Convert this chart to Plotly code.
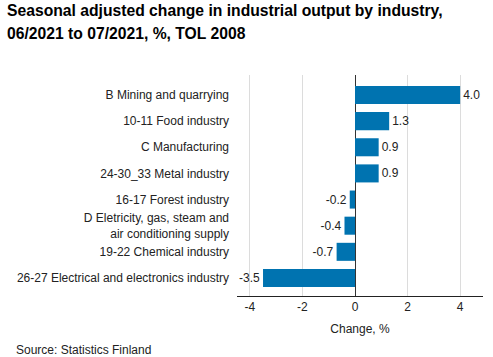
import plotly.graph_objects as go

categories = [
    "B Mining and quarrying",
    "10-11 Food industry",
    "C Manufacturing",
    "24-30_33 Metal industry",
    "16-17 Forest industry",
    "D Eletricity, gas, steam and<br>air conditioning supply",
    "19-22 Chemical industry",
    "26-27 Electrical and electronics industry",
]
values = [4.0, 1.3, 0.9, 0.9, -0.2, -0.4, -0.7, -3.5]
x_ticks = [-4, -2, 0, 2, 4]
title_lines = ["Seasonal adjusted change in industrial output by industry,",
               "06/2021 to 07/2021, %, TOL 2008"]
x_title = "Change, %"
source = "Source: Statistics Finland"

W, H = 493, 357
L, R, T, B = 237, 10, 75, 61
pw, ph = W - L - R, H - T - B

def px_x(p):
    return (p - L) / pw

def px_y(p):
    return (H - B - p) / ph

FONT = "Liberation Sans, Arial, sans-serif"

fig = go.Figure(go.Bar(
    x=values, y=categories, orientation="h",
    marker=dict(color="#0073b0", line=dict(width=0)),
    width=0.69,
    text=values, texttemplate="%{x:.1f}", textposition="outside",
    textfont=dict(size=12, color="#222", family=FONT),
    cliponaxis=False,
))

fig.update_layout(
    width=W, height=H,
    margin=dict(l=L, r=R, t=T, b=B, pad=0, autoexpand=False),
    paper_bgcolor="white", plot_bgcolor="white",
    showlegend=False,
    font=dict(family=FONT, size=12, color="#222"),
    xaxis=dict(
        range=[-4.49, 4.87], tickvals=x_ticks, ticktext=[str(v) for v in x_ticks],
        showgrid=True, gridcolor="#dcdcdc", gridwidth=1,
        zeroline=True, zerolinecolor="#333", zerolinewidth=1,
        showline=True, linecolor="#222", linewidth=1,
        ticks="", tickfont=dict(size=12, color="#222"),
        automargin=False,
        title=dict(text=x_title, font=dict(size=12, color="#222"), standoff=11),
    ),
    yaxis=dict(
        type="category", categoryorder="array", categoryarray=categories,
        range=[7.69, -0.765], showgrid=False, zeroline=False, showline=False,
        ticks="", tickfont=dict(size=12, color="#222"),
        automargin=False, ticklabelstandoff=7,
    ),
    annotations=[
        dict(text="<b>" + title_lines[0] + "</b>", xref="paper", yref="paper",
             x=px_x(5), y=px_y(11), xanchor="left", yanchor="middle",
             showarrow=False, font=dict(size=15.7, color="#000", family=FONT)),
        dict(text="<b>" + title_lines[1] + "</b>", xref="paper", yref="paper",
             x=px_x(5), y=px_y(33), xanchor="left", yanchor="middle",
             showarrow=False, font=dict(size=15.7, color="#000", family=FONT)),
        dict(text=source, xref="paper", yref="paper",
             x=px_x(14), y=px_y(350), xanchor="left", yanchor="middle",
             showarrow=False, font=dict(size=12, color="#222", family=FONT)),
    ],
)

fig.write_html("out.html", config={"displayModeBar": False},
               post_script="document.body.style.margin='0';document.body.style.overflow='hidden';")
